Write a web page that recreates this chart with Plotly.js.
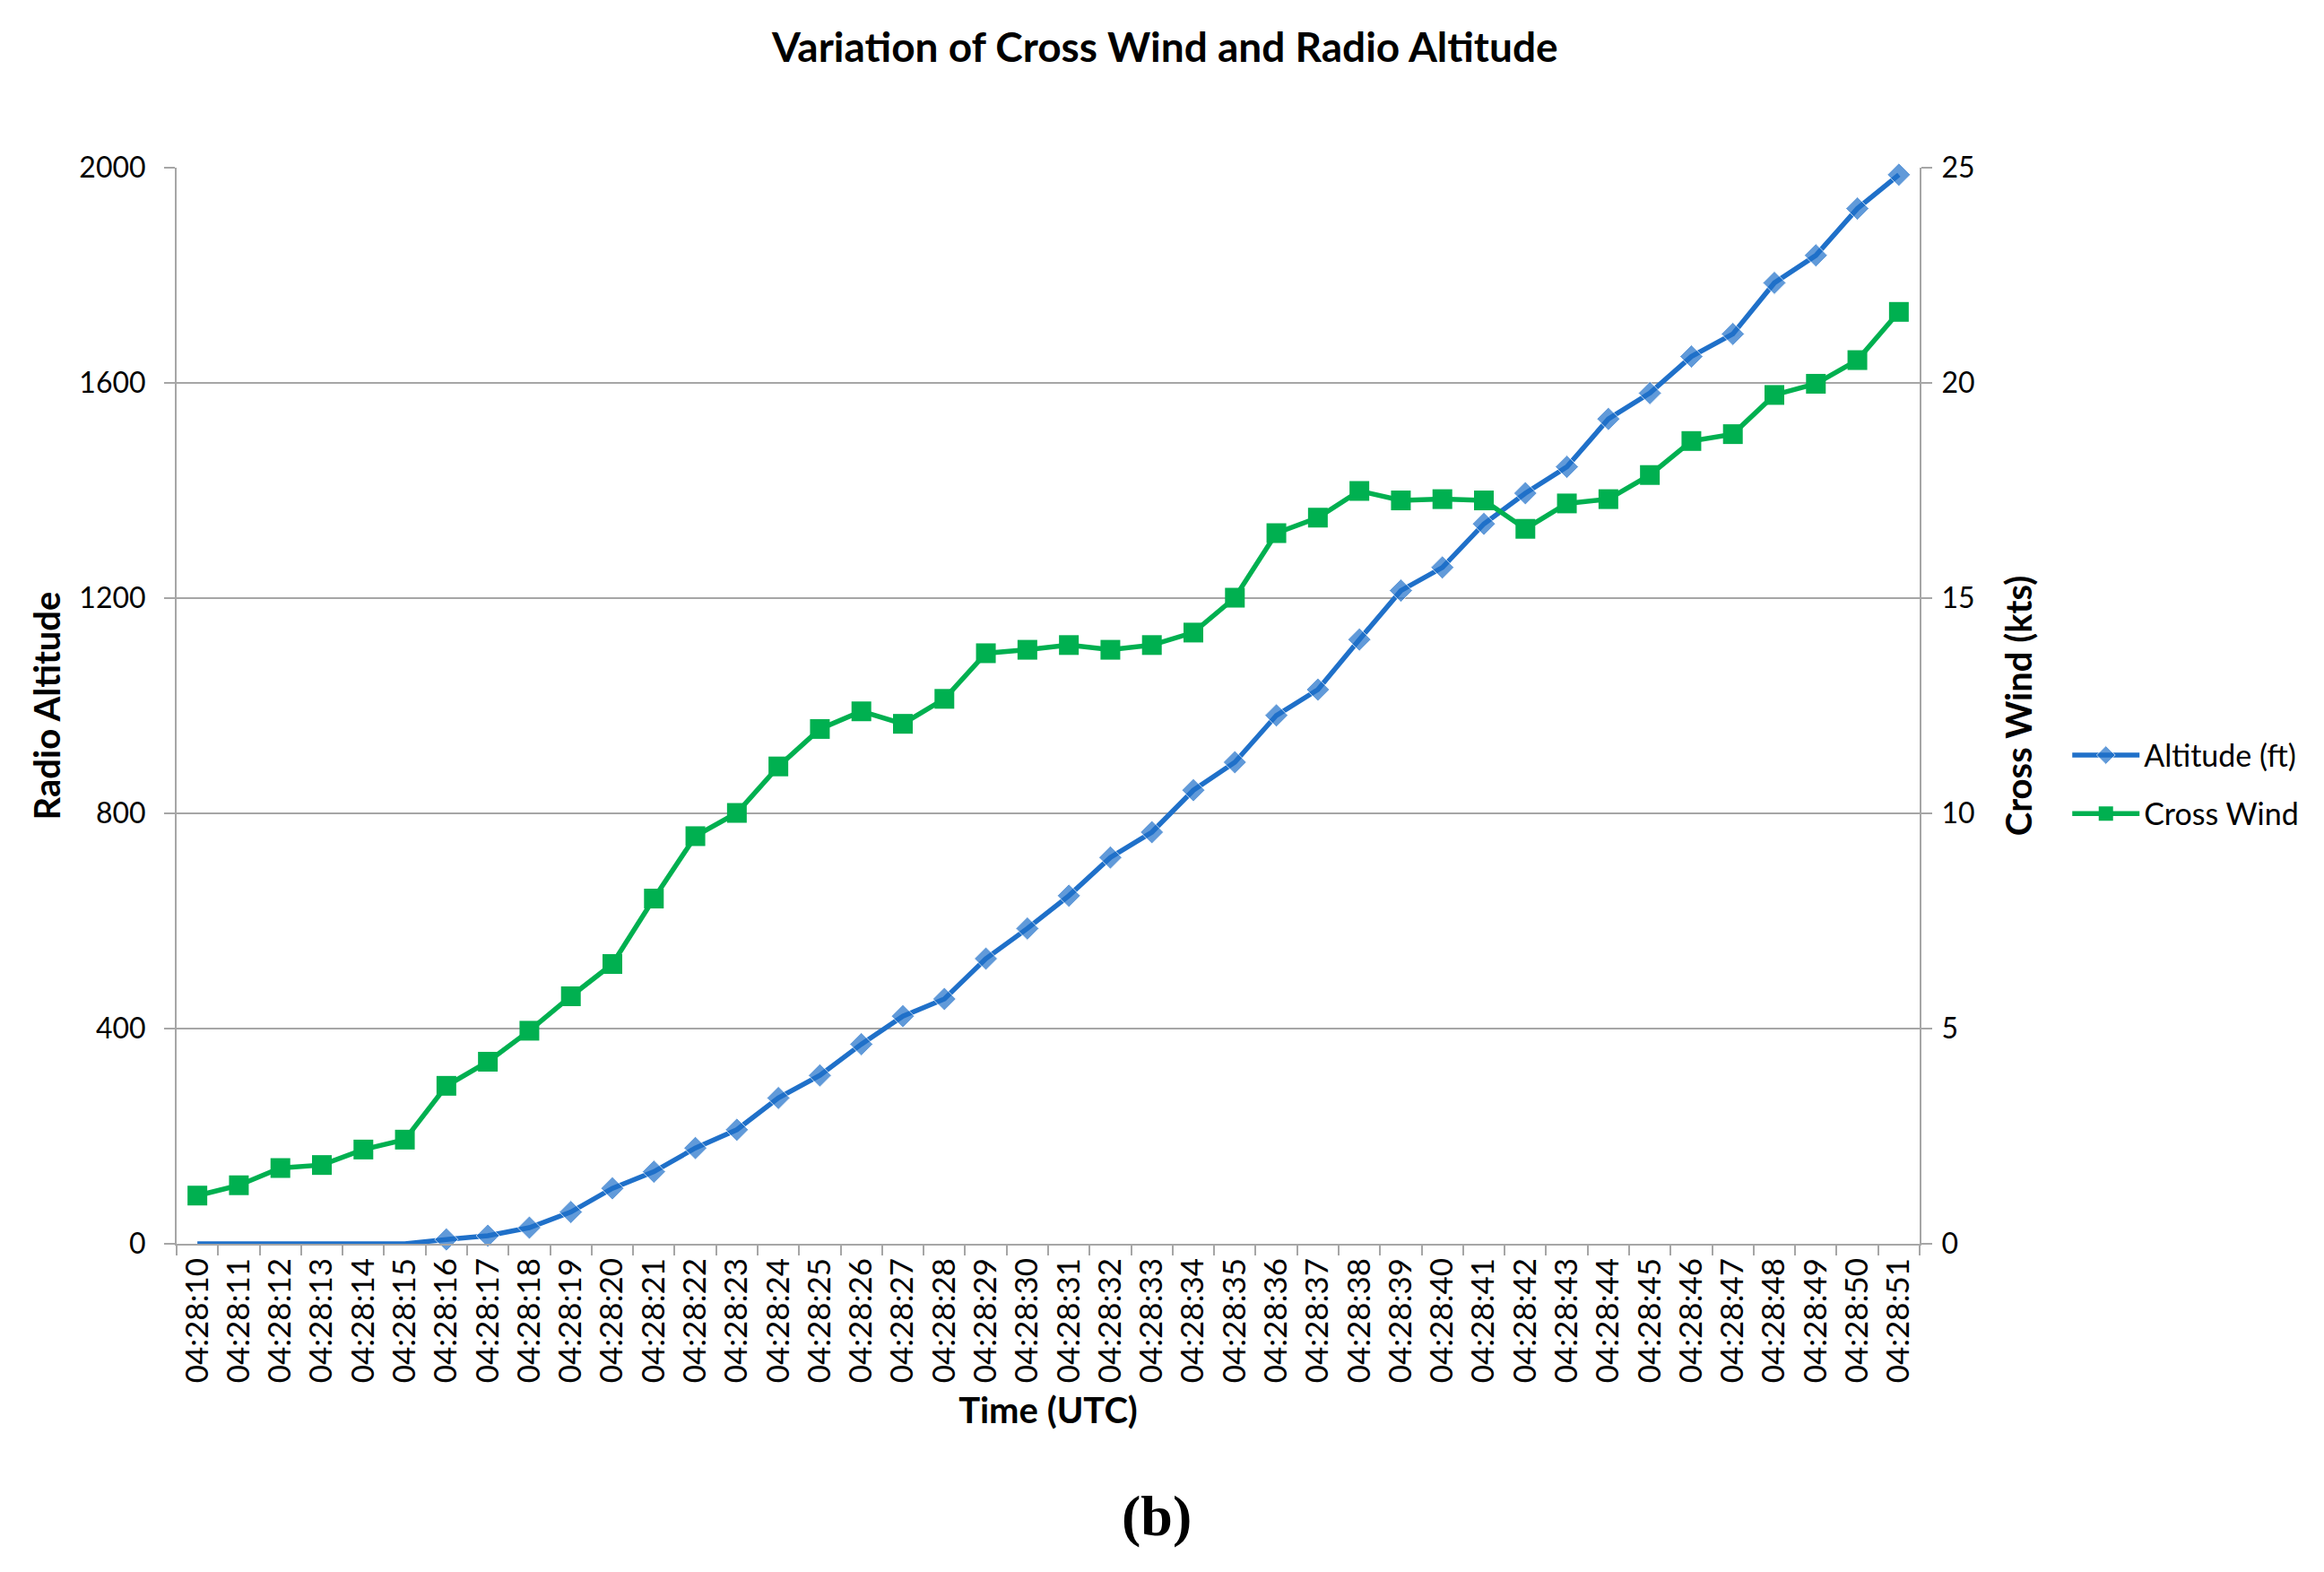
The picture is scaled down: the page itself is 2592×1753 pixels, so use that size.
<!DOCTYPE html>
<html>
<head>
<meta charset="utf-8">
<script src="https://cdn.plot.ly/plotly-3.0.1.min.js"></script>
<style>
  html, body { margin: 0; padding: 0; background: #fff; }
  #chart { width: 2592px; height: 1753px; }
</style>
</head>
<body>
<div id="chart"></div>
<script>
// time stamps on the category axis
const times = [
  '04:28:10', '04:28:11', '04:28:12', '04:28:13', '04:28:14', '04:28:15',
  '04:28:16', '04:28:17', '04:28:18', '04:28:19', '04:28:20', '04:28:21',
  '04:28:22', '04:28:23', '04:28:24', '04:28:25', '04:28:26', '04:28:27',
  '04:28:28', '04:28:29', '04:28:30', '04:28:31', '04:28:32', '04:28:33',
  '04:28:34', '04:28:35', '04:28:36', '04:28:37', '04:28:38', '04:28:39',
  '04:28:40', '04:28:41', '04:28:42', '04:28:43', '04:28:44', '04:28:45',
  '04:28:46', '04:28:47', '04:28:48', '04:28:49', '04:28:50', '04:28:51'
];

// radio altitude, ft (left axis)
const altitude = [
  0, 0, 0, 0, 0, 0, 8, 15, 30, 59, 103, 134, 178, 212, 271, 313, 371, 423,
  455, 530, 586, 647, 718, 765, 843, 895, 982, 1030, 1123, 1214, 1257, 1338,
  1395, 1444, 1533, 1581, 1649, 1691, 1786, 1837, 1924, 1987
];

// cross wind, kts (right axis)
const crossWind = [
  1.12, 1.36, 1.76, 1.83, 2.19, 2.42, 3.67, 4.23, 4.95, 5.75, 6.50, 8.02,
  9.47, 10.01, 11.09, 11.96, 12.37, 12.08, 12.66, 13.72, 13.80, 13.91, 13.80,
  13.91, 14.20, 15.01, 16.51, 16.87, 17.49, 17.27, 17.30, 17.27, 16.61, 17.20,
  17.30, 17.86, 18.65, 18.81, 19.72, 19.98, 20.53, 21.65
];

const altTicks = [0, 400, 800, 1200, 1600, 2000];
const windTicks = [0, 5, 10, 15, 20, 25];

const FONT = 'Lato, "Open Sans", "DejaVu Sans", sans-serif';
const BLUE = '#1f70c9';
const GREEN = '#00b050';
const GREY = '#a6a6a6';

// on the ground the altitude markers sit under the axis and are not shown
const altMarkerSize = altitude.map(v => (v > 0 ? 20 : 0));

const traces = [
  {
    name: 'Altitude (ft)',
    x: times,
    y: altitude,
    type: 'scatter',
    mode: 'lines+markers',
    legendgroup: 'alt',
    line: { color: BLUE, width: 5.5 },
    marker: { symbol: 'diamond', size: altMarkerSize, color: BLUE },
    cliponaxis: false
  },
  {
    name: 'Cross Wind',
    x: times,
    y: crossWind,
    yaxis: 'y2',
    type: 'scatter',
    mode: 'lines+markers',
    legendgroup: 'wind',
    line: { color: GREEN, width: 5.5 },
    marker: { symbol: 'square', size: 22, color: GREEN }
  }
];

const layout = {
  width: 2592,
  height: 1753,
  paper_bgcolor: '#fff',
  plot_bgcolor: '#fff',
  font: { family: FONT, color: '#000' },
  margin: { l: 197, r: 451, t: 187, b: 366 },
  title: {
    text: '<b>Variation of Cross Wind and Radio Altitude</b>',
    font: { family: FONT, size: 46, color: '#000' },
    xref: 'paper',
    x: 0.567,
    xanchor: 'center',
    yref: 'container',
    y: 0.97,
    yanchor: 'middle'
  },
  xaxis: {
    type: 'category',
    range: [-0.5, times.length - 0.5],
    tickson: 'boundaries',
    ticks: 'outside',
    ticklen: 11,
    tickwidth: 2,
    tickcolor: GREY,
    tickangle: -90,
    tickfont: { family: FONT, size: 35, color: '#000' },
    showgrid: false,
    showline: true,
    linecolor: GREY,
    linewidth: 2,
    title: {
      text: '<b>Time (UTC)</b>',
      font: { family: FONT, size: 40, color: '#000' },
      standoff: 18
    }
  },
  yaxis: {
    range: [0, 2000],
    tickvals: altTicks,
    ticks: 'outside',
    ticklen: 12,
    tickwidth: 2,
    tickcolor: GREY,
    tickfont: { family: FONT, size: 32, color: '#000' },
    ticklabelstandoff: 14,
    showgrid: true,
    gridcolor: GREY,
    gridwidth: 2,
    zeroline: false,
    showline: true,
    linecolor: GREY,
    linewidth: 2,
    title: {
      text: '<b>Radio Altitude</b>',
      font: { family: FONT, size: 40, color: '#000' },
      standoff: 8
    }
  },
  yaxis2: {
    overlaying: 'y',
    side: 'right',
    range: [0, 25],
    tickvals: windTicks,
    ticks: 'outside',
    ticklen: 12,
    tickwidth: 2,
    tickcolor: GREY,
    tickfont: { family: FONT, size: 32, color: '#000' },
    ticklabelstandoff: 4,
    showgrid: false,
    zeroline: false,
    showline: true,
    linecolor: GREY,
    linewidth: 2,
    title: {
      text: '<b>Cross Wind (kts)</b>',
      font: { family: FONT, size: 40, color: '#000' },
      standoff: 36
    }
  },
  showlegend: true,
  legend: {
    x: 1.085,
    xanchor: 'left',
    y: 0.478,
    yanchor: 'top',
    traceorder: 'grouped',
    tracegroupgap: 18,
    itemwidth: 75,
    font: { family: FONT, size: 34, color: '#000' },
    bgcolor: 'rgba(0,0,0,0)'
  },
  annotations: [
    {
      text: '<b>(b)</b>',
      xref: 'paper',
      yref: 'paper',
      x: 0.562,
      y: (1387 - 1690) / 1200,
      xanchor: 'center',
      yanchor: 'middle',
      showarrow: false,
      font: { family: '"Liberation Serif", "DejaVu Serif", serif', size: 64, color: '#000' }
    }
  ]
};

Plotly.newPlot('chart', traces, layout, { displayModeBar: false, staticPlot: true });
</script>
</body>
</html>
